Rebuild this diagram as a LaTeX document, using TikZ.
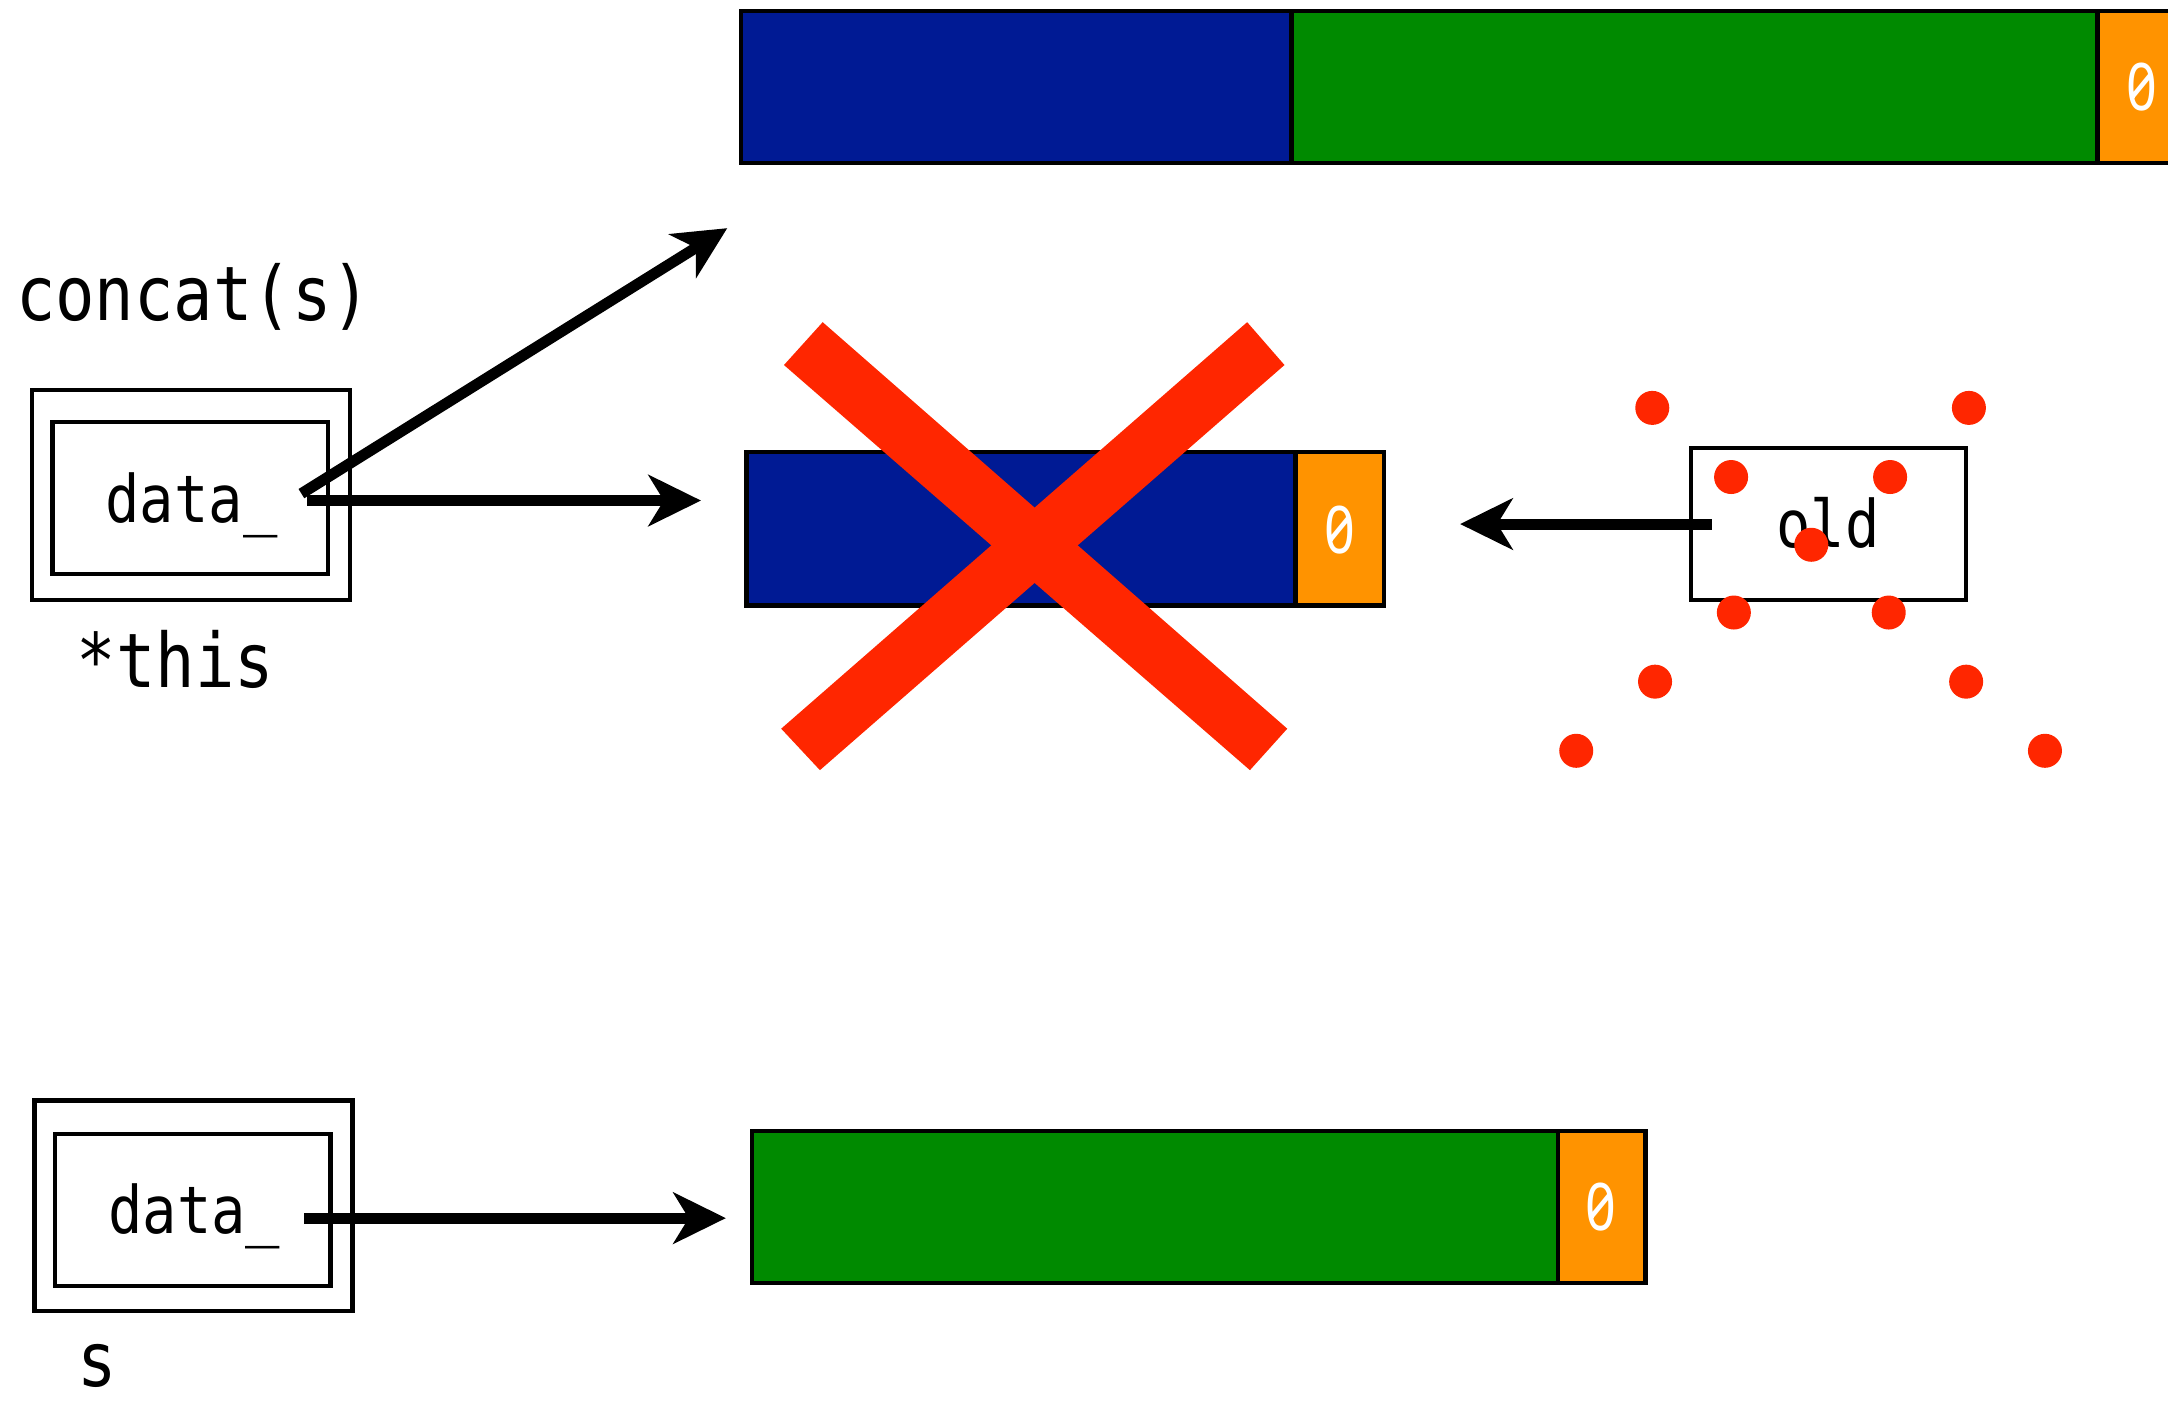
\documentclass[tikz,border=0pt]{standalone}
\usepackage{fontspec}
\newfontfamily\codefont[FakeStretch=0.87]{DejaVu Sans Mono}
\newfontfamily\nulfont[FakeStretch=0.82,RawFeature=+zero]{Noto Sans}
\usetikzlibrary{arrows.meta,fit}
\definecolor{memblue}{RGB}{0,26,148}
\definecolor{memgreen}{RGB}{0,138,0}
\definecolor{memorange}{RGB}{255,147,0}
\definecolor{crossred}{RGB}{255,38,0}

\begin{document}
\begin{tikzpicture}[x=0.02cm,y=-0.02cm,
  cell/.style={draw=black,line width=1.8pt,inner sep=0pt},
  frame/.style={draw=black,line width=1.8pt,inner sep=0pt},
  bigtxt/.style={font=\codefont\fontsize{31}{36}\selectfont,inner sep=0pt},
  smalltxt/.style={font=\codefont\fontsize{27}{32}\selectfont,inner sep=0pt},
  zerotxt/.style={font=\nulfont\fontsize{27}{32}\selectfont,inner sep=0pt,text=white},
  ptr/.style={line width=4.5pt,-{Stealth[length=21.6pt,width=21pt,inset=6.3pt]}},
  dot/.style={circle,fill=crossred,inner sep=0pt,minimum size=14pt},
  crossbar/.style={fill=crossred}]

\useasboundingbox (0,0) rectangle (1568,1015);
\clip (0,0) rectangle (1568,1015);

% concatenated buffer (top)
\node[cell,fill=memblue,fit={(536,8) (934,118)}] (topblue) {};
\node[cell,fill=memgreen,fit={(934,8) (1517,118)}] (topgreen) {};
\node[cell,fill=memorange,fit={(1517,8) (1581,118)}] (topnul) {};
\node[zerotxt,anchor=base] (topzero) at (1549,80) {0};

% old buffer (middle)
\node[cell,fill=memblue,fit={(540,327) (937,438)}] (midblue) {};
\node[cell,fill=memorange,fit={(937,327) (1001,438)}] (midnul) {};
\node[zerotxt,anchor=base] (midzero) at (969,400) {0};

% buffer of s (bottom)
\node[cell,fill=memgreen,fit={(544,818) (1127,928)}] (botgreen) {};
\node[cell,fill=memorange,fit={(1127,818) (1190,928)}] (botnul) {};
\node[zerotxt,anchor=base] (botzero) at (1158,890) {0};

% *this object
\node[bigtxt] (concat) at (140,215) {concat(s)};
\node[frame,fit={(23,282) (253,434)}] (thisouter) {};
\node[frame,fit={(38,305) (237,415)}] (thisinner) {};
\node[smalltxt,anchor=base] (thisdata) at (138.5,378) {data\_};
\node[bigtxt,anchor=base] (thislabel) at (127,497) {*this};

% s object
\node[frame,fit={(25,796) (255,948)}] (souter) {};
\node[frame,fit={(40,820) (239,930)}] (sinner) {};
\node[smalltxt,anchor=base] (sdata) at (140.5,892) {data\_};
\node[bigtxt,anchor=base] (slabel) at (70,1003) {s};

% temporary pointer "old"
\node[frame,fit={(1223,324) (1422,434)}] (oldbox) {};
\node[smalltxt,anchor=base] (oldtxt) at (1322,396) {old};

% pointer ends
\coordinate (thisptr) at (222,362);
\coordinate (thisptrdiag) at (218,357);
\coordinate (newtarget) at (526,165);
\coordinate (oldtarget) at (507,362);
\coordinate (sptr) at (220,881);
\coordinate (starget) at (525,881);
\coordinate (oldptr) at (1238,379);
\coordinate (oldarrive) at (1056,379);

\draw[ptr] (thisptr) -- (oldtarget);
\draw[ptr] (thisptrdiag) -- (newtarget);
\draw[ptr] (sptr) -- (starget);
\draw[ptr] (oldptr) -- (oldarrive);

% the old buffer is released
\fill[crossbar] (567,264) -- (595,233) -- (931,527) -- (904,557) -- cycle;
\fill[crossbar] (902,233) -- (929,264) -- (593,557) -- (565,527) -- cycle;

% scattered pieces of the deleted pointer
\foreach \px/\py [count=\i] in {1195/295,1424/295,1252/345,1367/345,1310/394,
    1254/443,1366/443,1197/493,1422/493,1140/543,1479/543}
  \node[dot] (piece\i) at (\px,\py) {};
\end{tikzpicture}
\end{document}
